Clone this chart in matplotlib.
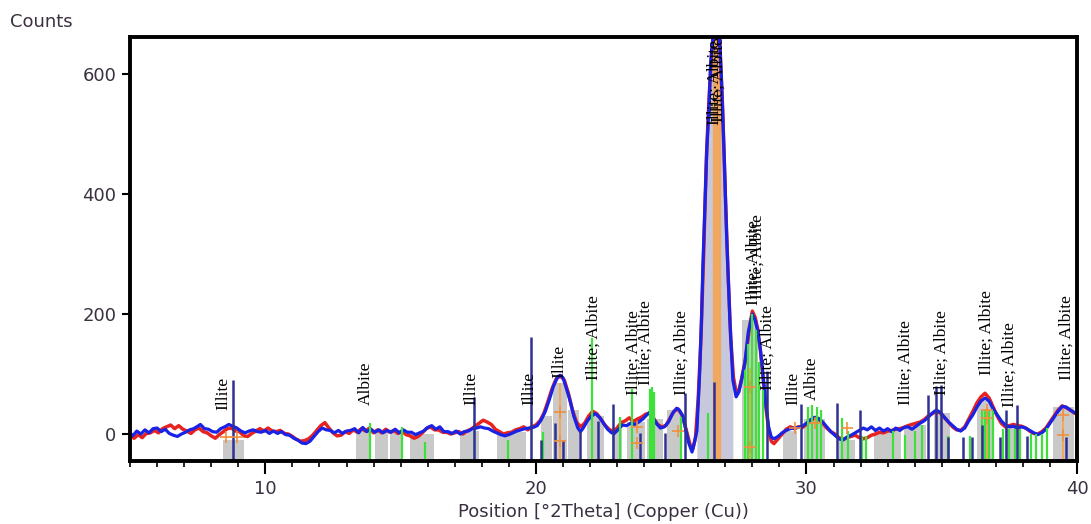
import matplotlib
matplotlib.use("Agg")
import matplotlib.pyplot as plt
from matplotlib.ticker import MultipleLocator

obs_x = [5.0, 5.15, 5.3, 5.45, 5.6, 5.75, 5.9, 6.05, 6.2, 6.35, 6.5, 6.65, 6.8, 6.95, 7.1, 7.25, 7.4, 7.55, 7.7, 7.85,
         8.0, 8.15, 8.3, 8.45, 8.6, 8.75, 8.9, 9.05, 9.2, 9.35, 9.5, 9.65, 9.8, 9.95, 10.1, 10.25, 10.4, 10.55, 10.7, 10.85,
         11.0, 11.15, 11.3, 11.45, 11.6, 11.75, 11.9, 12.05, 12.2, 12.35, 12.5, 12.65, 12.8, 12.95, 13.1, 13.25, 13.4, 13.55,
         13.7, 13.85, 14.0, 14.15, 14.3, 14.45, 14.6, 14.75, 14.9, 15.05, 15.2, 15.35, 15.5, 15.65, 15.8, 15.95, 16.1, 16.25,
         16.4, 16.55, 16.7, 16.85, 17.0, 17.15, 17.3, 17.45, 17.6, 17.75, 17.9, 18.05, 18.2, 18.35, 18.5, 18.65, 18.8, 18.95,
         19.1, 19.25, 19.4, 19.55, 19.7, 19.85, 20.0, 20.15, 20.3, 20.45, 20.6, 20.75, 20.9, 21.05, 21.2, 21.35, 21.5, 21.65,
         21.8, 21.95, 22.1, 22.25, 22.4, 22.55, 22.7, 22.85, 23.0, 23.15, 23.3, 23.45, 23.6, 23.75, 23.9, 24.05, 24.2, 24.35,
         24.5, 24.65, 24.8, 24.95, 25.1, 25.25, 25.4, 25.55, 25.7, 25.8, 25.9, 26.0, 26.1, 26.2, 26.3, 26.4, 26.5, 26.65,
         26.8, 26.9, 27.0, 27.1, 27.2, 27.3, 27.4, 27.5, 27.6, 27.75, 27.9, 28.0, 28.1, 28.2, 28.3, 28.4, 28.5, 28.6, 28.7,
         28.8, 28.95, 29.1, 29.25, 29.4, 29.55, 29.7, 29.85, 30.0, 30.15, 30.3, 30.45, 30.6, 30.75, 30.9, 31.05, 31.2, 31.35,
         31.5, 31.65, 31.8, 31.95, 32.1, 32.25, 32.4, 32.55, 32.7, 32.85, 33.0, 33.15, 33.3, 33.45, 33.6, 33.75, 33.9, 34.05,
         34.2, 34.35, 34.5, 34.65, 34.8, 34.95, 35.1, 35.25, 35.4, 35.55, 35.7, 35.85, 36.0, 36.15, 36.3, 36.45, 36.6, 36.75,
         36.9, 37.05, 37.2, 37.35, 37.5, 37.65, 37.8, 37.95, 38.1, 38.25, 38.4, 38.55, 38.7, 38.85, 39.0, 39.15, 39.3, 39.45,
         39.6, 39.75, 39.9, 40.0]
obs_y = [-4, -7, -1, -6, 1, 2, 6, 2, 9, 12, 15, 9, 14, 8, 5, 1, 7, 10, 4, 2,
         -3, -7, -1, 4, 9, 10, 5, 4, -3, -4, 1, 5, 9, 5, 10, 5, 4, 6, 1, 0,
         -4, -9, -12, -11, -8, -2, 6, 14, 19, 10, 2, -3, -2, 4, 1, 7, 3, 9,
         5, 10, 2, 7, 2, 8, 3, 6, 1, 5, -1, -3, -7, -4, 2, 9, 12, 7,
         7, 3, 3, 0, 2, 4, 0, 5, 8, 13, 18, 23, 20, 16, 8, 4, 0, 2,
         3, 7, 9, 12, 7, 12, 15, 22, 35, 55, 76, 92, 97, 90, 68, 40, 20, 12,
         18, 30, 38, 34, 25, 15, 8, 4, 10, 19, 22, 27, 21, 25, 28, 33, 35, 26,
         16, 12, 14, 26, 38, 42, 32, 8, -18, -25, -5, 60, 160, 300, 460, 560, 640, 700,
         650, 545, 400, 270, 160, 95, 70, 72, 92, 125, 180, 205, 195, 175, 138, 92, 45, 8, -12,
         -16, -8, 0, 8, 12, 9, 12, 11, 16, 22, 27, 25, 18, 10, 4, 0, -6, -9,
         -6, -4, -2, -6, -8, -6, -2, 0, 3, 2, 5, 6, 8, 9, 11, 14, 16, 18,
         20, 24, 30, 34, 38, 35, 27, 20, 12, 7, 6, 12, 25, 38, 52, 62, 68, 60,
         45, 30, 18, 12, 14, 16, 14, 13, 10, 5, 1, 0, 4, 10, 20, 30, 40, 47,
         44, 40, 35, 33]

# calculated profile (blue)
calc_x = [5.0, 5.1, 5.25, 5.4, 5.55, 5.7, 5.85, 6.0, 6.15, 6.3, 6.45, 6.6, 6.75, 6.9, 7.05, 7.2, 7.35, 7.5, 7.6, 7.75,
          7.9, 8.05, 8.2, 8.35, 8.5, 8.65, 8.8, 8.95, 9.1, 9.25, 9.4, 9.55, 9.7, 9.85, 10.0, 10.15, 10.3, 10.45, 10.6, 10.75,
          10.9, 11.05, 11.2, 11.35, 11.5, 11.65, 11.8, 11.95, 12.1, 12.25, 12.4, 12.55, 12.7, 12.85, 13.0, 13.15, 13.3, 13.45,
          13.6, 13.75, 13.9, 14.05, 14.2, 14.35, 14.5, 14.65, 14.8, 14.95, 15.1, 15.25, 15.4, 15.55, 15.7, 15.85, 16.0, 16.15,
          16.3, 16.45, 16.6, 16.75, 16.9, 17.05, 17.2, 17.35, 17.5, 17.65, 17.8, 17.95, 18.1, 18.25, 18.4, 18.55, 18.7, 18.85,
          19.0, 19.15, 19.3, 19.45, 19.6, 19.75, 19.9, 20.05, 20.2, 20.35, 20.5, 20.65, 20.8, 20.9, 21.0, 21.1, 21.25, 21.4,
          21.55, 21.65, 21.75, 21.9, 22.05, 22.2, 22.35, 22.5, 22.65, 22.8, 22.9, 23.05, 23.2, 23.35, 23.5, 23.65, 23.8, 23.95,
          24.1, 24.2, 24.3, 24.45, 24.6, 24.75, 24.9, 25.05, 25.2, 25.3, 25.43, 25.55, 25.65, 25.77, 25.87, 25.95, 26.05, 26.12,
          26.17, 26.24, 26.32, 26.39, 26.46, 26.6, 26.75, 26.85, 26.9, 26.97, 27.05, 27.12, 27.17, 27.28, 27.4, 27.5, 27.6,
          27.72, 27.85, 28.0, 28.1, 28.2, 28.3, 28.4, 28.5, 28.6, 28.7, 28.8, 28.95, 29.1, 29.25, 29.4, 29.55, 29.7, 29.85,
          30.0, 30.15, 30.3, 30.45, 30.6, 30.75, 30.9, 31.05, 31.2, 31.35, 31.5, 31.65, 31.8, 31.95, 32.1, 32.25, 32.4, 32.55,
          32.7, 32.85, 33.0, 33.15, 33.3, 33.45, 33.6, 33.75, 33.9, 34.05, 34.2, 34.35, 34.5, 34.65, 34.8, 34.95, 35.1, 35.25,
          35.4, 35.55, 35.7, 35.85, 36.0, 36.15, 36.3, 36.45, 36.6, 36.75, 36.9, 37.05, 37.2, 37.35, 37.5, 37.65, 37.8, 37.95,
          38.1, 38.25, 38.4, 38.55, 38.7, 38.85, 39.0, 39.15, 39.3, 39.45, 39.6, 39.75, 39.9, 40.0]
calc_y = [2, -3, 5, 0, 7, 2, 9, 10, 4, 8, 1, -2, -4, 0, 3, 7, 9, 13, 16, 9,
          8, 4, 3, 9, 12, 16, 13, 10, 5, 2, 5, 7, 4, 3, 6, 1, 5, 1, 4, -1,
          -2, -7, -10, -15, -16, -12, -4, 4, 10, 7, 6, 2, 6, 1, 5, 6, 9, 2,
          11, 4, 8, 3, 7, 2, 6, 3, 8, 2, 7, 3, 3, -1, 2, 5, 11, 14,
          8, 12, 4, 4, 1, 5, 0, 4, 5, 9, 10, 12, 10, 9, 5, 2, -1, -3,
          -1, 2, 5, 7, 9, 10, 11, 14, 24, 38, 58, 80, 95, 98, 94, 80, 58, 30,
          10, 4, 10, 22, 30, 34, 28, 18, 8, 2, 1, 8, 15, 14, 18, 16, 20, 25,
          32, 36, 30, 18, 10, 12, 20, 34, 43, 40, 30, 5, -15, -30, -12, 5, 100, 190,
          278, 373, 478, 540, 620, 690, 690, 600, 540, 450, 330, 250, 190, 90, 62, 70, 90,
          118, 170, 200, 190, 172, 140, 95, 50, 12, -5, -8, -4, 2, 6, 9, 10, 11, 13,
          18, 24, 28, 26, 20, 12, 4, -2, -8, -10, -5, -2, 2, 6, 10, 7, 12, 6,
          10, 5, 9, 4, 10, 6, 11, 12, 8, 13, 18, 22, 28, 35, 40, 36, 28, 20,
          14, 8, 5, 10, 22, 32, 45, 55, 60, 55, 42, 32, 22, 15, 12, 13, 10, 12,
          10, 6, 2, -1, 2, 8, 18, 28, 38, 46, 45, 40, 36, 34]

# reference pattern sticks
illite_x = [8.8, 17.7, 19.82, 20.2, 20.7, 21.0, 21.62, 22.29, 22.84, 23.84, 24.76, 25.5, 26.6, 28.53, 29.78,
            31.12, 31.97, 34.48, 34.8, 34.99, 35.22, 35.77, 36.1, 36.47, 37.14, 37.39, 37.77, 38.14, 39.6, 39.97]
illite_top = [90, 62, 162, -10, 18, -10, 5, 22, 50, 2, 2, 68, 87, 105, 50,
              52, 40, 65, 80, 82, -5, -5, -5, 15, -5, 40, 48, -3, -5, -3]
albite_x = [13.87, 15.05, 15.9, 18.96, 20.26, 22.07, 23.1, 23.54, 24.2, 24.28, 24.35, 25.35, 26.35, 27.72, 27.85,
            28.0, 28.12, 28.25, 28.38, 30.05, 30.2, 30.4, 30.55, 31.3, 31.53, 32.05, 32.2, 33.19, 33.63, 34.0,
            34.26, 35.22, 36.03, 36.47, 36.6, 36.75, 36.88, 37.25, 37.5, 37.7, 37.9, 38.3, 38.5, 38.7, 38.88]
albite_top = [18, 12, -13, -10, 3, 160, 28, 75, 75, 78, 70, 28, 35, 107, 150,
              200, 173, 120, 73, 45, 48, 45, 40, 27, 5, -3, -3, 5, -2, 5,
              15, -3, -3, 40, 40, 40, 38, 8, 8, 8, 8, 0, 0, 0, 10]

# grey peak areas: centre, width, top
grey_x = [8.82, 13.6, 14.3, 14.85, 15.8, 17.55, 19.1, 20.4, 20.9, 21.4, 22.2, 23.0, 23.7, 24.4, 25.1,
          26.68, 27.9, 29.4, 30.3, 31.5, 33.0, 34.0, 35.0, 36.6, 37.6, 39.5]
grey_w = [0.8, 0.5, 0.5, 0.5, 0.9, 0.7, 1.1, 0.4, 0.5, 0.4, 0.6, 0.4, 0.7, 0.6, 0.5,
          0.5, 0.6, 0.5, 0.8, 0.6, 1.0, 0.8, 0.6, 0.6, 0.5, 0.8]
grey_top = [-10, 5, 5, 3, 0, 5, 3, 30, 85, 40, 30, 10, 20, 25, 40,
            600, 190, 5, 25, -10, 5, 15, 35, 55, 10, 45]

# fitted peak markers (orange)
fit_x = [8.55, 8.95, 20.88, 20.88, 23.72, 23.72, 25.25, 27.9, 27.9, 29.57, 30.3, 31.5, 36.66, 36.66, 39.47, 39.47]
fit_y = [-5, -5, 37, -12, 12, -15, 5, 78, -22, 10, 18, 10, 40, 26, 32, -2]
fit_line_x = [20.88, 27.9, 36.66, 39.47]
fit_line_top = [85, 110, 45, 38]

# phase labels: position, bottom of text, text
label_x = [8.45, 13.7, 17.6, 19.75, 20.85, 22.15, 23.6, 24.05, 25.4, 26.62, 26.74, 28.05, 28.2, 28.55,
           29.5, 30.2, 33.65, 35.0, 36.65, 37.5, 39.6]
label_y = [40, 48, 48, 48, 93, 90, 65, 82, 65, 515, 520, 215, 225, 73,
           48, 57, 48, 65, 98, 45, 90]
label_txt = ["Illite", "Albite", "Illite", "Illite", "Illite", "Illite; Albite", "Illite; Albite",
             "Illite; Albite", "Illite; Albite", "Illite; Albite", "Illite; Albite", "Illite; Albite",
             "Illite; Albite", "Illite; Albite", "Illite", "Albite", "Illite; Albite", "Illite; Albite",
             "Illite; Albite", "Illite; Albite", "Illite; Albite"]

ymin, ymax = -45, 662
txtcol = "#3a3040"

fig = plt.figure(figsize=(10.91, 5.24), dpi=100)
ax = fig.add_axes([0.1192, 0.1202, 0.868, 0.809])

ax.bar(grey_x, [t - ymin for t in grey_top], width=grey_w, bottom=ymin,
       color="#c9c9c9", linewidth=0, zorder=1)
ax.fill_between(calc_x, ymin, calc_y, where=[25.95 <= x <= 27.3 for x in calc_x],
                color="#c8c8dc", linewidth=0, zorder=1)
ax.vlines(26.68, ymin, ymax, color="#f0a860", lw=6, zorder=2)
ax.vlines(fit_line_x, ymin, fit_line_top, color="#f0a860", lw=1.5, zorder=2)

ax.plot(obs_x, obs_y, color="#e8231f", lw=2.5, zorder=3)
ax.plot(calc_x, calc_y, color="#1a22e6", lw=2.3, zorder=4)

ax.vlines(albite_x, ymin, albite_top, color="#3ee03a", lw=1.6, zorder=5)
ax.vlines(illite_x, ymin, illite_top, color="#2e3192", lw=1.8, zorder=5)
ax.plot(fit_x, fit_y, "+", color="#f09040", ms=9, mew=1.2, zorder=6)

for x, y, t in zip(label_x, label_y, label_txt):
    ax.text(x, y, t, rotation=90, ha="center", va="bottom", fontsize=12.5,
            family="Liberation Serif", color="black", zorder=7)

ax.set_xlim(5, 40)
ax.set_ylim(ymin, ymax)
ax.set_xticks([10, 20, 30, 40])
ax.xaxis.set_minor_locator(MultipleLocator(1))
ax.set_yticks([0, 200, 400, 600])
ax.tick_params(axis="x", which="major", length=9, width=1.5, pad=5, labelsize=13, labelcolor=txtcol)
ax.tick_params(axis="x", which="minor", length=4, width=1.2)
ax.tick_params(axis="y", length=6, width=1.5, pad=4, labelsize=13, labelcolor=txtcol)
for s in ax.spines.values():
    s.set_linewidth(2.8)
    s.set_zorder(8)

ax.set_xlabel("Position [°2Theta] (Copper (Cu))", fontsize=13, color=txtcol, labelpad=3)
fig.text(0.009, 0.958, "Counts", fontsize=13, color=txtcol, ha="left", va="center")

fig.savefig("out.png", dpi=100)
